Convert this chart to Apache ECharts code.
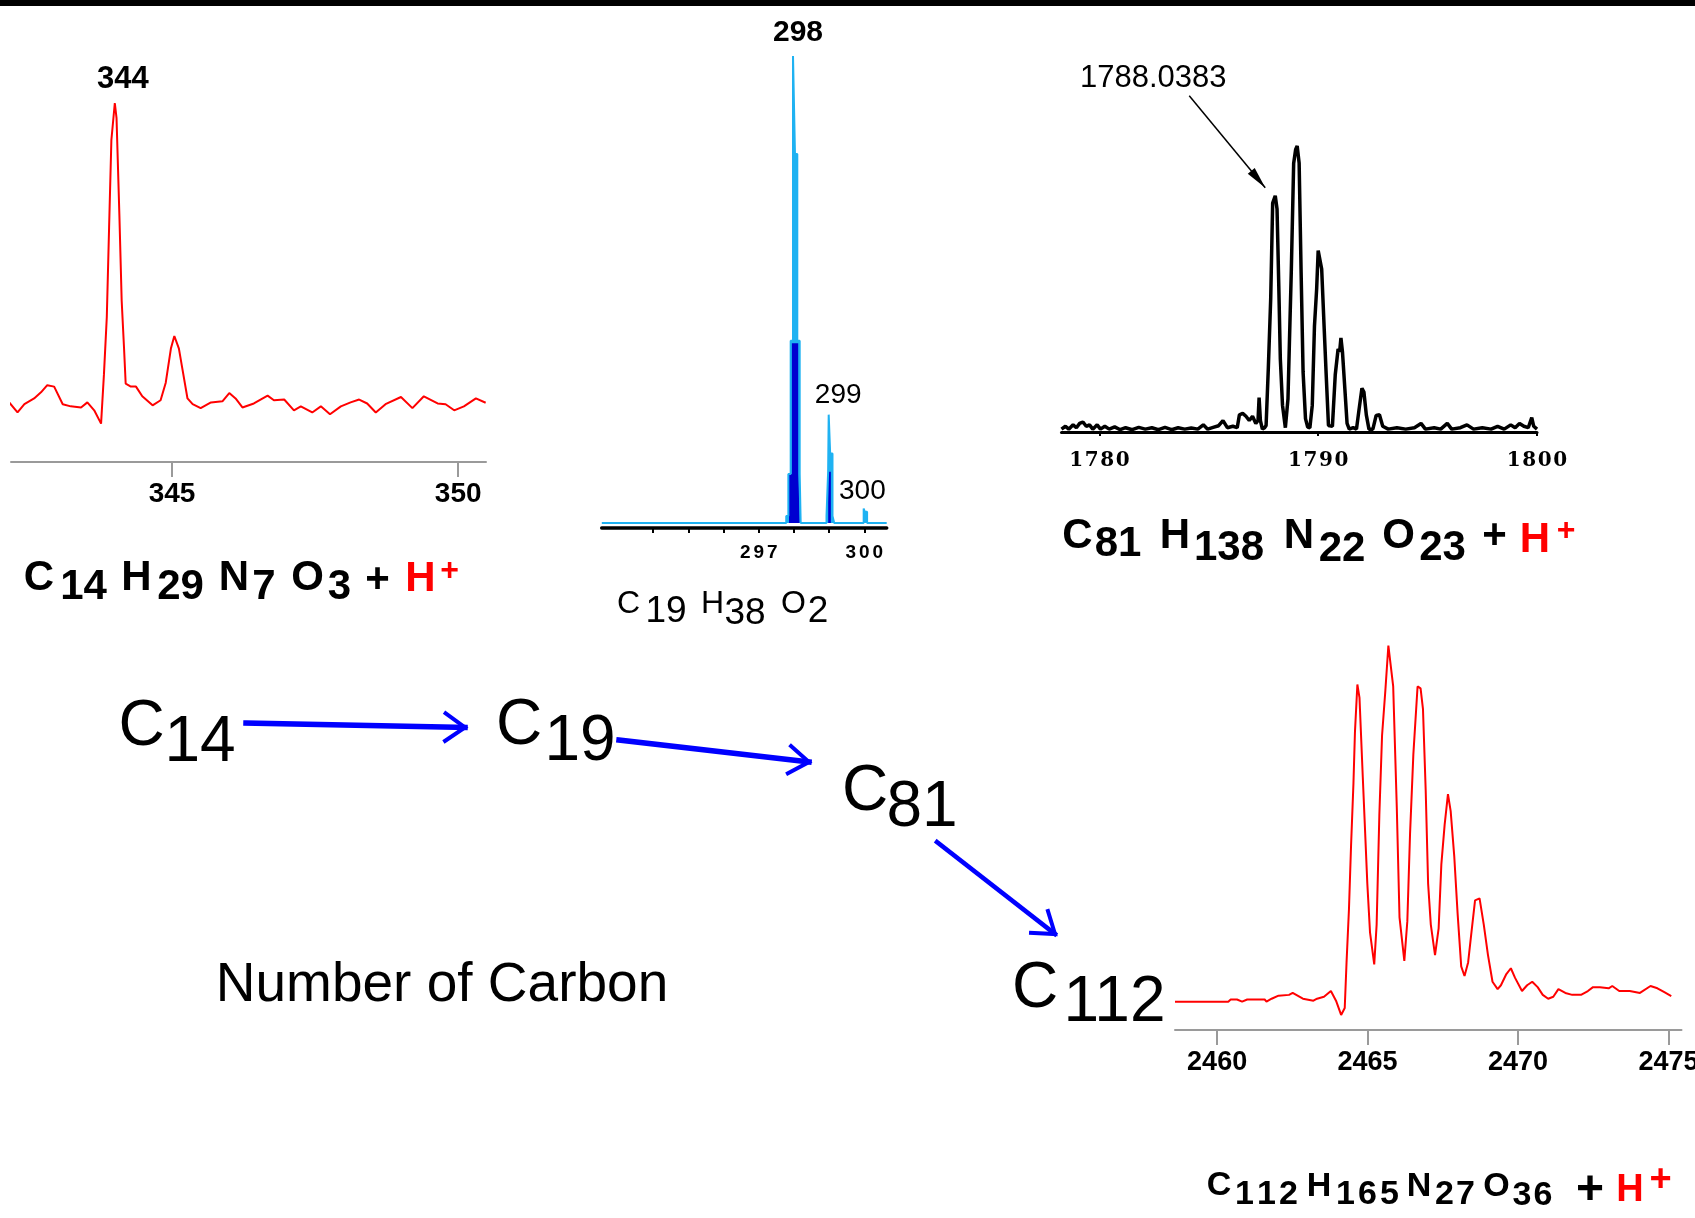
<!DOCTYPE html>
<html>
<head>
<meta charset="utf-8">
<script src="https://cdn.jsdelivr.net/npm/echarts@6/dist/echarts.min.js"></script>
<style>
  html, body { margin: 0; padding: 0; background: #fff; }
  #chart { width: 1695px; height: 1218px; }
</style>
</head>
<body>
<div id="chart"></div>
<script>
// ---------------- Spectra: [m/z, relative intensity %] ----------------

// C14H29N7O3 + H+ (profile)
const c14Profile = [
  [342.01,19.4],[342.30,13.8],[342.42,16.1],[342.59,17.7],[342.71,19.4],[342.82,21.4],[342.94,21.0],
  [343.09,16.1],[343.23,15.5],[343.41,15.2],[343.52,16.6],[343.64,14.4],[343.76,10.7],[343.81,24.4],
  [343.86,40.4],[343.90,65.3],[343.94,89.7],[344.00,100],[344.03,95.8],[344.08,68.7],[344.12,44.9],
  [344.16,32.1],[344.19,21.8],[344.28,21.0],[344.37,21.0],[344.48,18.3],[344.66,15.8],[344.80,17.2],
  [344.89,22.1],[344.98,31.6],[345.04,35.1],[345.12,31.6],[345.18,26.0],[345.27,17.7],[345.36,16.1],
  [345.50,15.0],[345.68,16.6],[345.88,16.9],[346.00,19.2],[346.11,17.7],[346.23,15.2],[346.43,16.3],
  [346.67,18.5],[346.78,17.2],[346.96,17.4],[347.13,14.4],[347.25,15.5],[347.45,13.8],[347.60,15.5],
  [347.76,13.3],[347.95,15.5],[348.12,16.6],[348.27,17.4],[348.41,16.3],[348.56,13.8],[348.73,16.1],
  [349.00,18.1],[349.20,15.0],[349.40,18.3],[349.64,16.3],[349.78,16.1],[349.93,14.4],[350.10,15.5],
  [350.31,17.7],[350.48,16.5]
];
const c14Peak = [344, 100];
const c14Ticks = [345, 350];

// C19H38O2: profile trace (light) and centroid trace (dark)
const c19Profile = [
  [292.54,0],
  [297.78,0],[297.78,1.5],[297.84,1.5],[297.84,10.5],[297.906,10.5],[297.906,39],[297.972,39],
  [297.972,100],[298.028,100],[298.028,79],[298.094,79],[298.094,39],[298.162,39],[298.162,10.5],
  [298.19,10.5],[298.19,0],
  [298.924,0],[298.924,1.5],[298.97,1.5],[298.97,11],[298.986,11],[298.986,23.2],[299.028,23.2],
  [299.028,14.9],[299.094,14.9],[299.094,1.5],[299.142,1.5],[299.142,0],
  [299.98,0],[299.98,3.1],[300.012,3.1],[300.012,2.4],[300.077,2.4],[300.077,0],
  [300.634,0]
];
const c19Centroid = [
  [292.54,0],
  [297.858,0],[297.858,10.5],[297.935,10.5],[297.935,38.5],[298.122,38.5],[298.122,10.5],
  [298.162,10.5],[298.162,0],
  [298.972,0],[298.972,11],[299.047,11],[299.047,0],
  [300.634,0]
];
const c19Peaks = [[298, 100], [299, 23.2], [300, 3.1]];
const c19Ticks = [294, 295, 296, 297, 298, 299, 300];
const c19TickLabels = [297, 300];

// C81H138N22O23 + H+ (profile)
const c81Profile = [
  [1778.27,1],[1778.45,2],[1778.6,1],[1778.8,2.5],[1778.95,1.5],[1779.1,3],[1779.25,3.5],[1779.4,2],
  [1779.55,2.5],[1779.7,1],[1779.9,2.5],[1780.05,1],[1780.25,2],[1780.45,1],[1780.7,1.8],[1780.95,0.8],
  [1781.2,1.5],[1781.5,0.8],[1781.8,1.6],[1782.1,1],[1782.4,1.5],[1782.7,0.8],[1783.0,1.6],[1783.3,0.8],
  [1783.6,1.5],[1783.9,1],[1784.2,1.4],[1784.5,1],[1784.75,2.5],[1784.95,1],[1785.2,1.6],[1785.45,2.2],
  [1785.65,4],[1785.85,1.5],[1786.1,2],[1786.3,1.5],[1786.4,6],[1786.55,6.5],[1786.7,5.5],[1786.85,4],
  [1787.0,5.5],[1787.15,3],[1787.25,4],[1787.3,12],[1787.36,4],[1787.45,1],[1787.55,1.5],
  [1787.62,2.3],[1787.72,22],[1787.83,46.5],[1787.92,80],[1788.0383,82.6],[1788.12,78],[1788.2,51],
  [1788.27,25.6],[1788.37,9.3],[1788.5,1.5],
  [1788.62,11.6],[1788.69,32.6],[1788.77,55.8],[1788.88,94],[1788.97,98.8],[1789.04,100],[1789.13,94],
  [1789.22,55.8],[1789.31,21],[1789.42,4.7],[1789.52,1.7],[1789.62,1.5],
  [1789.73,9.3],[1789.83,37],[1789.93,50],[1790.0,63.4],[1790.07,62.8],[1790.16,57],[1790.27,37],
  [1790.36,21],[1790.47,2.3],
  [1790.65,2],[1790.78,20],[1790.91,29],[1790.98,28],[1791.04,32.9],[1791.11,28],[1791.22,15],[1791.32,3],
  [1791.42,1],[1791.6,1.5],[1791.75,1],[1791.87,8],[1792.0,15.3],[1792.09,14],[1792.2,6],[1792.32,1],
  [1792.5,1],[1792.65,5.8],[1792.8,6],[1792.95,2],[1793.2,1],[1793.6,1.5],[1794.0,1],[1794.4,1.5],
  [1794.7,3],[1794.9,1],[1795.3,1.5],[1795.6,1],[1795.9,3],[1796.1,1],[1796.5,1.5],[1796.8,2.5],
  [1797.1,1],[1797.5,1.5],[1797.9,1],[1798.2,2],[1798.5,1],[1798.8,2.5],[1799.0,1.5],[1799.2,3],
  [1799.4,2],[1799.6,1.5],[1799.76,5],[1799.85,2],[1800,1]
];
const c81Apex = [1788.0383, 82.6];
const c81Ticks = [1780, 1790, 1800];

// C112H165N27O36 + H+ (profile)
const c112Profile = [
  [2458.60,7.35],[2460.37,7.35],[2460.45,7.9],[2460.66,7.9],[2460.83,7.35],[2461.0,7.9],[2461.58,7.9],
  [2461.64,7.35],[2461.81,8.1],[2462.04,8.9],[2462.39,9.1],[2462.51,9.6],[2462.85,8.1],[2463.20,7.6],
  [2463.32,8.1],[2463.55,8.6],[2463.78,10.1],[2463.95,7.6],[2464.12,3.9],[2464.24,5.7],[2464.30,17.5],
  [2464.38,31.2],[2464.45,47.8],[2464.53,64.0],[2464.58,77.3],[2464.66,89.5],[2464.73,86.1],
  [2464.84,65.5],[2464.99,38.0],[2465.08,25.3],[2465.22,17.0],[2465.30,27.3],[2465.39,55.7],
  [2465.48,76.3],[2465.59,88.0],[2465.69,99.6],[2465.74,100],[2465.85,89.0],[2465.97,57.6],
  [2466.06,29.2],[2466.22,17.9],[2466.32,28.2],[2466.41,50.8],[2466.52,71.4],[2466.66,89.0],
  [2466.76,88.5],[2466.84,83.1],[2466.93,62.1],[2467.01,38.0],[2467.10,27.3],[2467.24,19.4],
  [2467.36,26.3],[2467.45,42.9],[2467.56,53.2],[2467.67,61.1],[2467.76,56.7],[2467.88,44.9],
  [2467.99,30.2],[2468.11,16.5],[2468.22,14.0],[2468.34,17.5],[2468.45,25.3],[2468.57,33.6],
  [2468.72,34.1],[2468.86,27.3],[2469.0,19.4],[2469.15,12.5],[2469.32,10.6],[2469.43,11.6],
  [2469.61,14.5],[2469.76,16.0],[2469.90,13.5],[2470.13,10.1],[2470.30,11.6],[2470.47,12.5],
  [2470.65,11.1],[2470.82,9.1],[2471.0,8.1],[2471.17,8.6],[2471.34,10.6],[2471.57,9.6],[2471.80,9.1],
  [2472.09,9.1],[2472.32,10.1],[2472.49,11.1],[2472.72,11.1],[2473.01,10.8],[2473.13,11.4],
  [2473.36,10.1],[2473.71,10.1],[2474.05,9.6],[2474.40,11.4],[2474.63,10.8],[2474.86,9.8],[2475.09,8.8]
];
const c112Ticks = [2460, 2465, 2470, 2475];

// ---------------- Styling helpers ----------------
const SANS = '"Liberation Sans", Arial, Helvetica, sans-serif';
const SERIF = '"DejaVu Serif", "Liberation Serif", serif';
const RED = '#ff0000';
const BLUE = '#0000ff';
const LIGHT_BLUE = '#1fb2f2';
const DARK_BLUE = '#0000d0';
const AXIS_GREY = '#9a9a9a';

// digits laid out in fixed-width cells (wide bitmap-style tick labels)
const cellDigits = v => String(v).split('').map(c => '{d|' + c + '}').join('');
const plain = v => String(v);

function hiddenY(grid, min, max) {
  return { gridIndex: grid, type: 'value', min: min, max: max, show: false, splitLine: { show: false } };
}

function lineSeries(axis, data, color, width, extra) {
  return Object.assign({
    type: 'line', xAxisIndex: axis, yAxisIndex: axis, data: data,
    showSymbol: false, symbol: 'none', silent: true, animation: false, clip: true,
    lineStyle: { color: color, width: width }, itemStyle: { color: color }
  }, extra || {});
}

const option = {
  backgroundColor: '#fff',
  animation: false,
  grid: [
    { left: 11, top: 103, width: 475, height: 359, outerBoundsMode: 'none', containLabel: false },
    { left: 601.7, top: 56, width: 285, height: 472, outerBoundsMode: 'none', containLabel: false },
    { left: 1061.5, top: 146, width: 475.5, height: 286, outerBoundsMode: 'none', containLabel: false },
    { left: 1175, top: 644, width: 506.5, height: 386, outerBoundsMode: 'none', containLabel: false }
  ],
  xAxis: [
    {
      gridIndex: 0, type: 'value', min: 342.186, max: 350.486,
      axisLine: { show: true, onZero: false, lineStyle: { color: AXIS_GREY, width: 2 } },
      axisTick: { show: true, customValues: c14Ticks, length: 15, lineStyle: { color: AXIS_GREY, width: 2 } },
      axisLabel: { customValues: c14Ticks, formatter: plain, margin: 18, color: '#000', fontFamily: SANS, fontSize: 28, fontWeight: 'bold' },
      splitLine: { show: false }
    },
    {
      gridIndex: 1, type: 'value', min: 292.537, max: 300.634,
      axisLine: { show: true, onZero: false, lineStyle: { color: '#000', width: 3.5 } },
      axisTick: { show: true, customValues: c19Ticks, length: 5, lineStyle: { color: '#000', width: 2 } },
      axisLabel: {
        customValues: c19TickLabels, margin: 15, color: '#000', formatter: cellDigits, fontWeight: 'bold',
        rich: { d: { width: 13.5, align: 'center', fontFamily: SANS, fontSize: 19, fontWeight: 'bold', lineHeight: 19, color: '#000' } }
      },
      splitLine: { show: false }
    },
    {
      gridIndex: 2, type: 'value', min: 1778.27, max: 1800,
      axisLine: { show: true, onZero: false, lineStyle: { color: '#000', width: 3 } },
      axisTick: { show: true, customValues: c81Ticks, length: 4, lineStyle: { color: '#000', width: 2 } },
      axisLabel: {
        customValues: c81Ticks, margin: 19, color: '#000', formatter: cellDigits, fontWeight: 'bold',
        rich: { d: { width: 15.5, align: 'center', fontFamily: SERIF, fontSize: 20, fontWeight: 'bold', lineHeight: 20, color: '#000' } }
      },
      splitLine: { show: false }
    },
    {
      gridIndex: 3, type: 'value', min: 2458.6, max: 2475.43,
      axisLine: { show: true, onZero: false, lineStyle: { color: AXIS_GREY, width: 2 } },
      axisTick: { show: true, customValues: c112Ticks, length: 15, lineStyle: { color: AXIS_GREY, width: 2 } },
      axisLabel: { customValues: c112Ticks, formatter: plain, margin: 19, color: '#000', fontFamily: SANS, fontSize: 27, fontWeight: 'bold' },
      splitLine: { show: false }
    }
  ],
  yAxis: [
    hiddenY(0, 0, 100),
    hiddenY(1, -1.07, 100),
    hiddenY(2, 0, 100),
    hiddenY(3, 0, 100)
  ],
  series: [
    lineSeries(0, c14Profile, RED, 2),
    lineSeries(1, c19Profile, LIGHT_BLUE, 2, { areaStyle: { color: LIGHT_BLUE, opacity: 1, origin: 'auto' } }),
    lineSeries(1, c19Centroid, DARK_BLUE, 0, { areaStyle: { color: DARK_BLUE, opacity: 1, origin: 'auto' } }),
    lineSeries(2, c81Profile, '#000', 3.5),
    lineSeries(3, c112Profile, RED, 2)
  ]
};

const chart = echarts.init(document.getElementById('chart'), null, { renderer: 'canvas' });
chart.setOption(option);

// ---------------- Annotations ----------------
const toPx = (grid, pt) => chart.convertToPixel({ gridIndex: grid }, pt);

function txt(text, x, y, font, color, align) {
  return {
    type: 'text', silent: true, z: 10,
    style: {
      text: text, x: x, y: y, font: font, fill: color || '#000',
      align: align || 'center', verticalAlign: 'middle',
      textAlign: align || 'center', textVerticalAlign: 'middle'
    }
  };
}

// parts: [text, centerX, centerY, font, color]
function formula(parts) {
  return parts.map(p => txt(p[0], p[1], p[2], p[3], p[4]));
}

// digits centred in equal cells around cx
function spaced(text, cx, cy, cell, font, color) {
  const n = text.length;
  return text.split('').map((c, i) => txt(c, cx + (i - (n - 1) / 2) * cell, cy, font, color));
}

function chevronArrow(x1, y1, x2, y2, w, hw) {
  const th = Math.atan2(y2 - y1, x2 - x1);
  const L = 26, a = 35 * Math.PI / 180;
  const p1 = [x2 - L * Math.cos(th + a), y2 - L * Math.sin(th + a)];
  const p2 = [x2 - L * Math.cos(th - a), y2 - L * Math.sin(th - a)];
  return [
    { type: 'line', silent: true, shape: { x1: x1, y1: y1, x2: x2, y2: y2 }, style: { stroke: BLUE, lineWidth: w, lineCap: 'square' } },
    { type: 'polyline', silent: true, shape: { points: [p1, [x2, y2], p2] }, style: { stroke: BLUE, lineWidth: hw, fill: null, lineJoin: 'miter' } }
  ];
}

const B42 = 'bold 42px ' + SANS;
const g = [];

// top rule
g.push({ type: 'rect', silent: true, shape: { x: 0, y: 0, width: 1695, height: 6 }, style: { fill: '#000' } });

// peak labels tied to their apexes
const p344 = toPx(0, c14Peak);
g.push(txt(String(c14Peak[0]), p344[0] + 8, p344[1] - 24, 'bold 31px ' + SANS));

const c19Offsets = [[4, -23], [9, -19], [-2, -17]];
c19Peaks.forEach((pk, i) => {
  const q = toPx(1, pk);
  const font = (i === 0 ? 'bold 30px ' : '28px ') + SANS;
  g.push(txt(String(pk[0]), q[0] + c19Offsets[i][0], q[1] + c19Offsets[i][1], font));
});

// 1788.0383 callout with pointer
const pa = toPx(2, c81Apex);
const tip = [pa[0] - 10, pa[1] - 8];
const tail = [pa[0] - 86, pa[1] - 100];
g.push({ type: 'line', silent: true, shape: { x1: tail[0], y1: tail[1], x2: tip[0], y2: tip[1] }, style: { stroke: '#000', lineWidth: 1.5 } });
(function () {
  const dx = tip[0] - tail[0], dy = tip[1] - tail[1], len = Math.hypot(dx, dy);
  const ux = dx / len, uy = dy / len, nx = -uy, ny = ux;
  const bx = tip[0] - ux * 22, by = tip[1] - uy * 22;
  g.push({ type: 'polygon', silent: true, shape: { points: [tip, [bx + nx * 4.5, by + ny * 4.5], [bx - nx * 4.5, by - ny * 4.5]] }, style: { fill: '#000' } });
})();
g.push(txt(String(c81Apex[0]), pa[0] - 122, pa[1] - 117, '31px ' + SANS));

// formula under the first spectrum
g.push.apply(g, formula([
  ['C', 39, 578, B42], ['14', 83.5, 587.5, B42],
  ['H', 136.5, 578, B42], ['29', 180.5, 587.5, B42],
  ['N', 234, 578, B42], ['7', 264, 587.5, B42],
  ['O', 307.5, 578, B42], ['3', 339.5, 587.5, B42],
  ['+', 377.5, 580.5, B42],
  ['H', 420.5, 579, B42, RED], ['+', 449.5, 571.5, 'bold 32px ' + SANS, RED]
]));

// formula under the second spectrum
const R32 = '32px ' + SANS, R37 = '37px ' + SANS;
g.push.apply(g, formula([
  ['C', 628.5, 604, R32], ['19', 666, 612, R37],
  ['H', 712.5, 604, R32], ['38', 745, 614, R37],
  ['O', 793.5, 604, R32], ['2', 818, 612, R37]
]));

// formula under the third spectrum
g.push.apply(g, formula([
  ['C', 1077.5, 536, B42], ['81', 1118, 544, B42],
  ['H', 1175, 536, B42], ['138', 1229, 548, B42],
  ['N', 1299, 536, B42], ['22', 1342, 549, B42],
  ['O', 1398.5, 536, B42], ['23', 1442.5, 548, B42],
  ['+', 1494.5, 536.5, B42],
  ['H', 1535, 540, B42, RED], ['+', 1566, 531, 'bold 32px ' + SANS, RED]
]));

// formula under the fourth spectrum
const B33 = 'bold 34px ' + SANS, B34 = 'bold 34px ' + SANS;
g.push.apply(g, formula([
  ['C', 1219, 1186, B33], ['H', 1319, 1187, B33], ['N', 1419, 1187, B33], ['O', 1496.5, 1187, B33],
  ['+', 1590, 1191, 'bold 48px ' + SANS],
  ['H', 1630, 1191, 'bold 38px ' + SANS, RED], ['+', 1660.5, 1181, 'bold 38px ' + SANS, RED]
]));
g.push.apply(g, spaced('112', 1266.5, 1195, 22, B34));
g.push.apply(g, spaced('165', 1367.5, 1195, 22, B34));
g.push.apply(g, spaced('27', 1455, 1195, 21, B34));
g.push.apply(g, spaced('36', 1532.5, 1196, 21, B34));

// carbon-count progression
const R64 = '64px ' + SANS;
g.push.apply(g, formula([
  ['C', 141.5, 727, R64], ['14', 200, 743, R64],
  ['C', 519, 726, R64], ['19', 580, 742, R64],
  ['C', 865, 792, R64], ['81', 922, 808, R64],
  ['C', 1035, 989, R64], ['112', 1114.5, 1003, R64]
]));
g.push(txt('Number of Carbon', 442, 986, '55px ' + SANS));

g.push.apply(g, chevronArrow(246, 723, 465, 727.5, 5.5, 4));
g.push.apply(g, chevronArrow(619, 740, 809, 762, 5.5, 4));
g.push.apply(g, chevronArrow(937, 842, 1055, 934, 4.5, 4));

chart.setOption({ graphic: { elements: g } });
</script>
</body>
</html>
